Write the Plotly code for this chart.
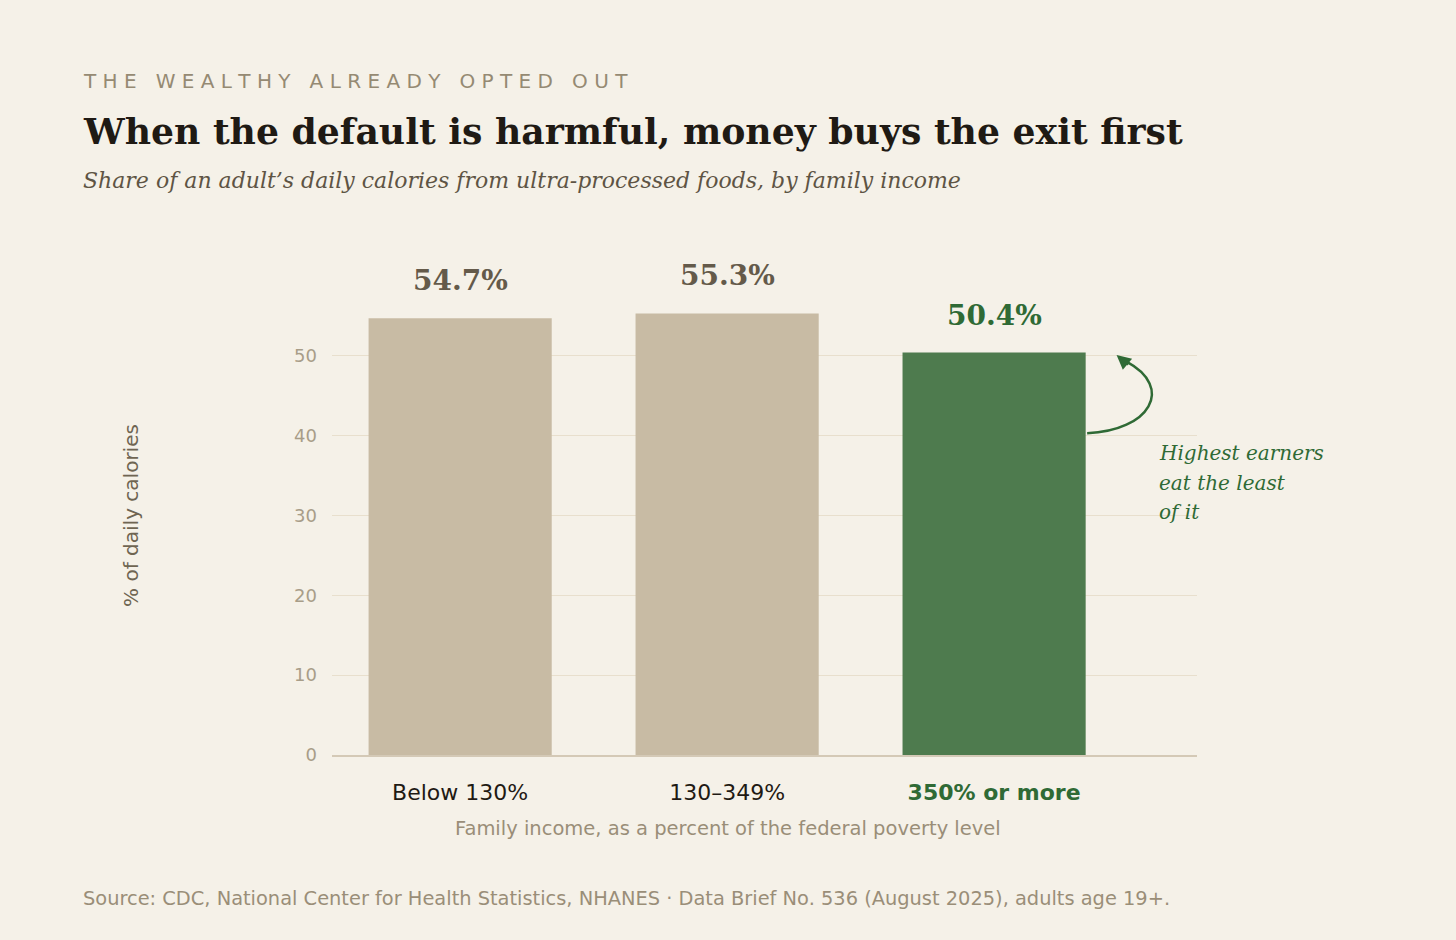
import plotly.graph_objects as go

categories = ["Below 130%", "130–349%", "350% or more"]
values = [54.7, 55.3, 50.4]
value_labels = ["54.7%", "55.3%", "50.4%"]
bar_colors = ["#c8bba4", "#c8bba4", "#4e7b4e"]
label_colors = ["#645a4a", "#645a4a", "#2f6a35"]
ytick_vals = [0, 10, 20, 30, 40, 50]
callout_lines = ["Highest earners", "eat the least", "of it"]
eyebrow = "THE WEALTHY ALREADY OPTED OUT"

SERIF = "DejaVu Serif"
SANS = "DejaVu Sans"
BG = "#f5f1e8"

tick_text = [categories[0], categories[1],
             "<b><span style='color:#2f6a35'>" + categories[2] + "</span></b>"]

# letter-spaced eyebrow (tracking emulated with spaces)
eyebrow_spaced = "   ".join(" ".join(w) for w in eyebrow.split(" "))

fig = go.Figure()
fig.add_trace(go.Bar(
    x=categories, y=values,
    marker=dict(color=bar_colors, line=dict(width=0)),
    width=0.686,
    hoverinfo="skip",
))

# value labels above bars
for c, v, t, col in zip(categories, values, value_labels, label_colors):
    fig.add_annotation(x=c, y=v, xref="x", yref="y", text=t, showarrow=False,
                       yanchor="bottom", yshift=19,
                       font=dict(family=SERIF, size=28, color=col, weight=600))

LEFT = -0.2902
# title block
fig.add_annotation(xref="paper", yref="paper", x=LEFT, y=1.3616,
                   text=eyebrow_spaced,
                   showarrow=False, xanchor="left", yanchor="middle",
                   font=dict(family=SANS, size=20, color="#958a73"))
fig.add_annotation(xref="paper", yref="paper", x=LEFT, y=1.2606,
                   text="<b>When the default is harmful, money buys the exit first</b>",
                   showarrow=False, xanchor="left", yanchor="middle",
                   font=dict(family=SERIF, size=36.2, color="#1f1a14"))
fig.add_annotation(xref="paper", yref="paper", x=LEFT, y=1.1596,
                   text="<i>Share of an adult’s daily calories from ultra-processed foods, by family income</i>",
                   showarrow=False, xanchor="left", yanchor="middle",
                   font=dict(family=SERIF, size=22, color="#5e5444"))

# y-axis title
fig.add_annotation(xref="paper", yref="paper", x=-0.2324, y=0.485,
                   text="% of daily calories", textangle=-90, showarrow=False,
                   xanchor="center", yanchor="middle",
                   font=dict(family=SANS, size=20, color="#6f6552"))
# x-axis title
fig.add_annotation(xref="paper", yref="paper", x=0.4578, y=-0.1475,
                   text="Family income, as a percent of the federal poverty level",
                   showarrow=False, xanchor="center", yanchor="middle",
                   font=dict(family=SANS, size=19.5, color="#9a8e78"))
# source
fig.add_annotation(xref="paper", yref="paper", x=LEFT, y=-0.2889,
                   text="Source: CDC, National Center for Health Statistics, NHANES · Data Brief No. 536 (August 2025), adults age 19+.",
                   showarrow=False, xanchor="left", yanchor="middle",
                   font=dict(family=SANS, size=19.4, color="#9a8e78"))

# callout text, one line per annotation to match the line spacing
for i, line in enumerate(callout_lines):
    fig.add_annotation(xref="paper", yref="paper", x=0.9538,
                       y=(755 - (453 + 29.5 * i)) / 495,
                       text="<i>" + line + "</i>",
                       showarrow=False, xanchor="left", yanchor="middle", align="left",
                       font=dict(family=SERIF, size=20, color="#2f6a35"))

fig.add_shape(type="path", xref="paper", yref="y",
              path="M 0.873 40.3 C 0.945 40.6, 0.975 46.0, 0.918 49.3",
              line=dict(color="#2f6a35", width=2.5))
fig.add_annotation(xref="paper", yref="y", x=0.907, y=50.1,
                   ax=13, ay=11,
                   text="", showarrow=True, arrowhead=2, arrowsize=1.3,
                   arrowwidth=2.2, arrowcolor="#2f6a35", standoff=0)

fig.update_layout(
    width=1456, height=940,
    paper_bgcolor=BG, plot_bgcolor=BG,
    margin=dict(l=332, r=259, t=260, b=185),
    showlegend=False,
    bargap=0.31,
    xaxis=dict(type="category", range=[-0.48, 2.76],
               tickvals=categories, ticktext=tick_text,
               showgrid=False, showline=True, linecolor="#d4c9b6", linewidth=2,
               ticks="", ticklabelstandoff=17,
               tickfont=dict(family=SANS, size=22, color="#1f1a14")),
    yaxis=dict(range=[0, 62], tickvals=ytick_vals,
               showgrid=True, gridcolor="#e8dfcd", gridwidth=1.2,
               zeroline=False, showline=False, ticks="",
               ticklabelstandoff=14,
               tickfont=dict(family=SANS, size=18, color="#a89d88")),
)

fig.write_html("out.html", config={"displayModeBar": False},
               post_script="document.body.style.margin='0';document.body.style.background='" + BG + "';")
